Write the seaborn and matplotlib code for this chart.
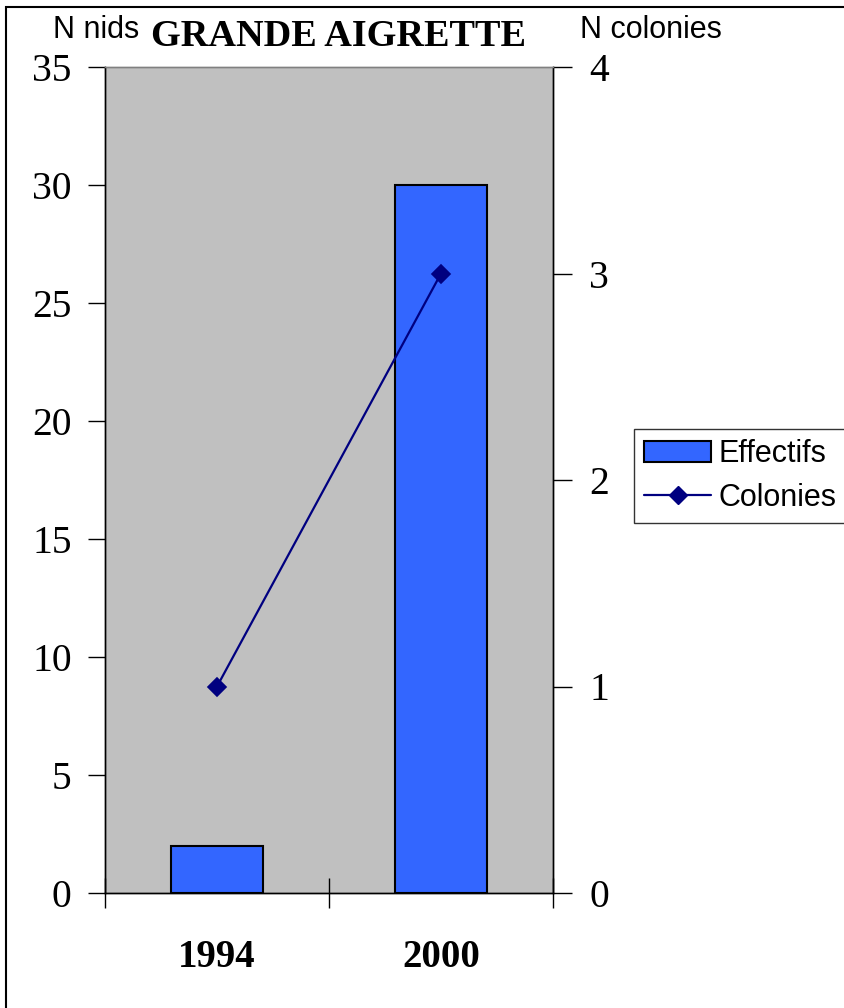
import matplotlib
matplotlib.use("Agg")
import matplotlib.pyplot as plt
import seaborn as sns
import pandas as pd
from matplotlib.patches import Rectangle, Patch
from matplotlib.lines import Line2D

years = ["1994", "2000"]
effectifs = [2, 30]
colonies = [1, 3]
left_ticks = [0, 5, 10, 15, 20, 25, 30, 35]
right_ticks = [0, 1, 2, 3, 4]

df = pd.DataFrame({"year": years, "effectifs": effectifs, "colonies": colonies})

sns.set_theme(style="white")
plt.rcParams['font.family'] = ['Liberation Serif', 'DejaVu Serif']
for k in ["text.color", "axes.labelcolor", "xtick.color", "ytick.color"]:
    plt.rcParams[k] = "black"

W, H = 845, 1008
fig = plt.figure(figsize=(W / 100, H / 100), dpi=100)
ax = fig.add_axes([105 / W, 1 - 893 / H, (553 - 105) / W, (893 - 67) / H])
ax.set_facecolor("#C0C0C0")

sns.barplot(data=df, x="year", y="effectifs", color="#3366FF", width=0.41,
            edgecolor="black", linewidth=1.5, saturation=1, ax=ax, zorder=2)
for p in ax.patches:
    p.set_facecolor("#3366FF")

ax.set_xlim(-0.5, 1.5)
ax.set_ylim(0, 35)
ax.set_yticks(left_ticks)
ax.set_yticklabels([str(t) for t in left_ticks], fontsize=28.5)
ax.tick_params(axis="y", direction="out", length=12, width=1, color="black", pad=12, left=True)
ax.set_xticks([-0.5, 0.5, 1.5])
ax.set_xticklabels(["", "", ""])
ax.tick_params(axis="x", which="major", direction="inout", length=22, width=1, color="black", bottom=True)
ax.set_xticks([0, 1], minor=True)
ax.set_xticklabels(years, minor=True, fontsize=28, fontweight="bold")
ax.tick_params(axis="x", which="minor", length=0, pad=33)
ax.set_xlabel("")
ax.set_ylabel("")

ax2 = ax.twinx()
sns.pointplot(data=df, x="year", y="colonies", color="#000080", markers="D",
              markersize=9, linewidth=1.6, ax=ax2)
ax2.set_xlim(-0.5, 1.5)
ax2.set_ylim(0, 4)
ax2.set_yticks(right_ticks)
ax2.set_yticklabels([str(t) for t in right_ticks], fontsize=28.5)
ax2.tick_params(axis="y", direction="out", length=14, width=1, color="black", pad=12, right=True)
ax2.set_ylabel("")
ax2.set_xlabel("")

for a in (ax, ax2):
    for s in a.spines.values():
        s.set_linewidth(1)
    a.spines["left"].set_color("black")
    a.spines["right"].set_color("black")
    a.spines["bottom"].set_color("black")
    a.spines["top"].set_color("#808080")

fig.text(53 / W, 1 - 30 / H, "N nids", fontsize=22, family=["Liberation Sans"], va="center", ha="left")
fig.text(580 / W, 1 - 30 / H, "N colonies", fontsize=22, family=["Liberation Sans"], va="center", ha="left")
fig.text(339 / W, 1 - 37 / H, "GRANDE AIGRETTE", fontsize=27.5, fontweight="bold", va="center", ha="center")

handles = [Patch(facecolor="#3366FF", edgecolor="black", linewidth=1.5, label="Effectifs"),
           Line2D([], [], color="#000080", marker="D", markersize=9, linewidth=1.6, label="Colonies")]
leg = fig.legend(handles=handles, loc="upper left", bbox_to_anchor=(634 / W, 1 - 429 / H),
                 frameon=True, fancybox=False, prop={"family": "Liberation Sans", "size": 22},
                 handlelength=2.2, handleheight=0.7, handletextpad=0.25, borderpad=0.33,
                 labelspacing=0.45, borderaxespad=0)
leg.get_frame().set_edgecolor("black")
leg.get_frame().set_linewidth(1)

fig.patches.append(Rectangle((6 / W, -0.1), 1.2, 1.1 - 7 / H, transform=fig.transFigure,
                             fill=False, edgecolor="black", linewidth=1.5))

fig.savefig("out.png", dpi=100)
